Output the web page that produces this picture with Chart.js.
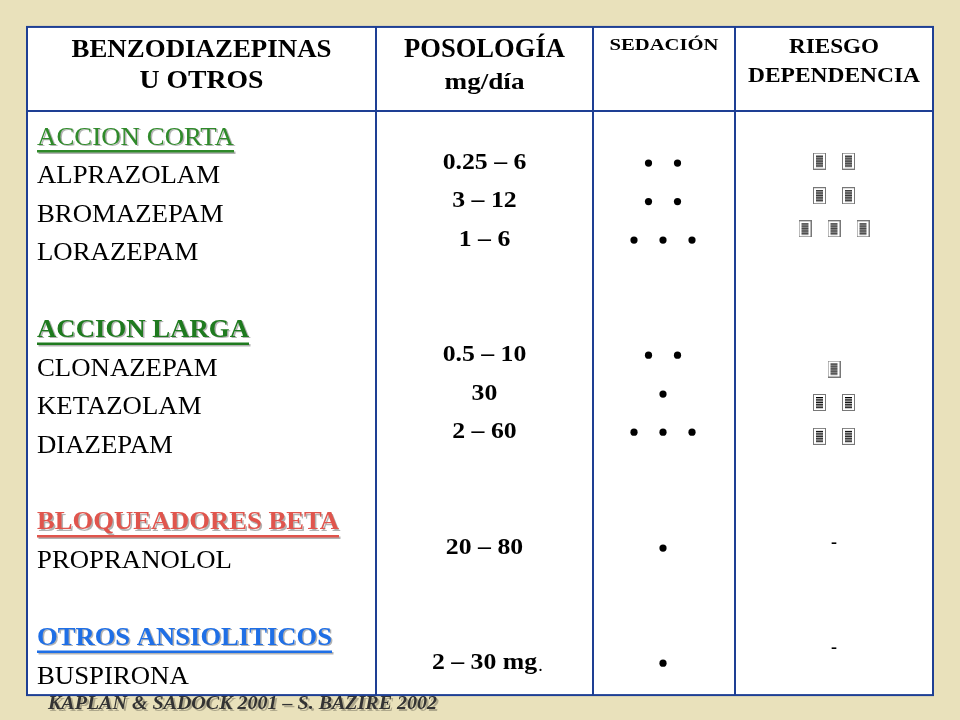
<!DOCTYPE html>
<html>
<head>
  <title>Benzodiazepinas</title>
  <script src="https://cdn.jsdelivr.net/npm/chart.js"></script>
  <style>
    body { margin: 0; background: #e9e1bb; }
    #wrap { width: 960px; height: 720px; }
  </style>
</head>
<body>
  <div id="wrap"><canvas id="tbl" width="960" height="720"></canvas></div>
  <script>
    // left column text and its row index
    const names = ['ACCION CORTA', 'ALPRAZOLAM', 'BROMAZEPAM', 'LORAZEPAM',
      'ACCION LARGA', 'CLONAZEPAM', 'KETAZOLAM', 'DIAZEPAM',
      'BLOQUEADORES BETA', 'PROPRANOLOL', 'OTROS ANSIOLITICOS', 'BUSPIRONA'];
    const nameRows = [0, 1, 2, 3, 5, 6, 7, 8, 10, 11, 13, 14];
    const groupColor = { 0: '#2f8a2a', 4: '#1f7a1f', 8: '#e0554d', 10: '#1f6fe6' };
    const groupWidth = { 0: 197, 4: 212, 8: 302, 10: 295 };

    const doses = ['0.25 – 6', '3 – 12', '1 – 6', '0.5 – 10', '30', '2 – 60', '20 – 80', '2 – 30 mg'];
    const doseRows = [0.65, 1.65, 2.65, 5.64, 6.65, 7.64, 10.65, 13.64];
    const sedation = [2, 2, 3, 2, 1, 3, 1, 1];
    const risk = [2, 2, 3, 1, 2, 2, 0, 0];
    const riskRows = [0.6, 1.5, 2.36, 6.0, 6.87, 7.75, 10.52, 13.25];

    const colEdges = [27, 376, 593, 735, 933];
    const sedX = 663, riskX = 834, gap = 29;

    function spread(counts, rows, cx) {
      const pts = [];
      counts.forEach((n, i) => {
        for (let k = 0; k < n; k++) pts.push({ x: cx + (k - (n - 1) / 2) * gap, y: rows[i] });
      });
      return pts;
    }

    const icon = document.createElement('canvas');
    icon.width = 13; icon.height = 17;
    const ic = icon.getContext('2d');
    ic.fillStyle = '#fff'; ic.fillRect(0, 0, 13, 17);
    ic.strokeStyle = '#777'; ic.lineWidth = 1; ic.strokeRect(0.5, 0.5, 12, 16);
    ic.fillStyle = '#000';
    for (let j = 0; j < 7; j++) ic.fillRect(3, 3 + j * 1.7, 7, 1);

    // text squeezed/stretched horizontally to the slide's widths
    function wide(c, t, x, y, sx, align) {
      c.save();
      c.translate(x, y); c.scale(sx, 1);
      c.textAlign = align || 'center';
      c.fillText(t, 0, 0);
      c.restore();
    }
    function fit(c, t, x, y, w, align) {
      wide(c, t, x, y, w / c.measureText(t).width, align);
    }

    const tablePlugin = {
      id: 'tablePlugin',
      beforeDatasetsDraw(chart) {
        const c = chart.ctx, X = chart.scales.x, Y = chart.scales.y;
        const top = Y.getPixelForValue(-2.885), mid = Y.getPixelForValue(-0.70), bot = Y.getPixelForValue(14.47);
        const L = X.getPixelForValue(27), R = X.getPixelForValue(933);
        c.save();
        c.fillStyle = '#fff';
        c.fillRect(L, top, R - L, bot - top);
        c.strokeStyle = '#1e3f94'; c.lineWidth = 2;
        c.strokeRect(L, top, R - L, bot - top);
        c.beginPath();
        colEdges.slice(1, 4).forEach(e => { c.moveTo(X.getPixelForValue(e), top); c.lineTo(X.getPixelForValue(e), bot); });
        c.moveTo(L, mid); c.lineTo(R, mid);
        c.stroke();

        c.fillStyle = '#000'; c.textBaseline = 'middle';
        const hc = i => X.getPixelForValue((colEdges[i] + colEdges[i + 1]) / 2);
        c.font = 'bold 25px "Liberation Serif"';
        fit(c, 'BENZODIAZEPINAS', hc(0), 51, 260); fit(c, 'U OTROS', hc(0), 82, 124);
        c.font = 'bold 27px "Liberation Serif"'; fit(c, 'POSOLOGÍA', hc(1), 50, 161);
        c.font = 'bold 23px "Liberation Serif"'; fit(c, 'mg/día', hc(1), 83, 80);
        c.font = 'bold 17px "Liberation Serif"'; fit(c, 'SEDACIÓN', hc(2), 46, 109);
        c.font = 'bold 20px "Liberation Serif"';
        fit(c, 'RIESGO', hc(3), 48, 90); fit(c, 'DEPENDENCIA', hc(3), 77, 172);

        names.forEach((n, i) => {
          const y = Y.getPixelForValue(nameRows[i]), x = X.getPixelForValue(37);
          const col = groupColor[i];
          if (col) {
            c.font = (i === 0 ? '' : 'bold ') + '25px "Liberation Serif"';
            const w = groupWidth[i];
            c.fillStyle = 'rgba(0,0,0,0.3)'; fit(c, n, x + 1.5, y + 1.5, w, 'left');
            c.fillStyle = col; fit(c, n, x, y, w, 'left');
            c.fillStyle = 'rgba(0,0,0,0.3)'; c.fillRect(x + 1.5, y + 13.5, w, 2.5);
            c.fillStyle = col; c.fillRect(x, y + 12, w, 2.5);
          } else {
            c.font = '26px "Liberation Serif"'; c.fillStyle = '#000';
            wide(c, n, x, y, 1.03, 'left');
          }
        });

        c.fillStyle = '#000';
        c.font = 'bold 23px "Liberation Serif"';
        doses.forEach((d, i) => wide(c, d, hc(1), Y.getPixelForValue(doseRows[i]), 1.12));
        c.font = '18px "Liberation Serif"'; wide(c, '.', hc(1) + 56, Y.getPixelForValue(13.64) + 3, 1);
        c.font = 'bold 18px "Liberation Serif"';
        risk.forEach((n, i) => { if (n === 0) wide(c, '-', X.getPixelForValue(riskX), Y.getPixelForValue(riskRows[i]), 1); });

        c.font = 'italic bold 18px "Liberation Serif"';
        c.fillStyle = 'rgba(0,0,0,0.25)'; fit(c, 'KAPLAN & SADOCK 2001 – S. BAZIRE 2002', 50, 706, 389, 'left');
        c.fillStyle = '#333'; fit(c, 'KAPLAN & SADOCK 2001 – S. BAZIRE 2002', 48, 704, 389, 'left');
        c.restore();
      }
    };

    new Chart(document.getElementById('tbl'), {
      type: 'scatter',
      data: {
        datasets: [
          { data: spread(sedation, doseRows, sedX), pointRadius: 3.6, backgroundColor: '#000', borderWidth: 0 },
          { data: spread(risk, riskRows, riskX), pointStyle: icon, pointRadius: 8 }
        ]
      },
      options: {
        responsive: false, animation: false,
        layout: { padding: 0, autoPadding: false },
        plugins: { legend: { display: false }, tooltip: { enabled: false } },
        scales: {
          x: { type: 'linear', min: 0, max: 960, display: false },
          y: { type: 'linear', min: -138 / 38.5, max: 582 / 38.5, reverse: true, display: false }
        }
      },
      plugins: [tablePlugin]
    });
  </script>
</body>
</html>
